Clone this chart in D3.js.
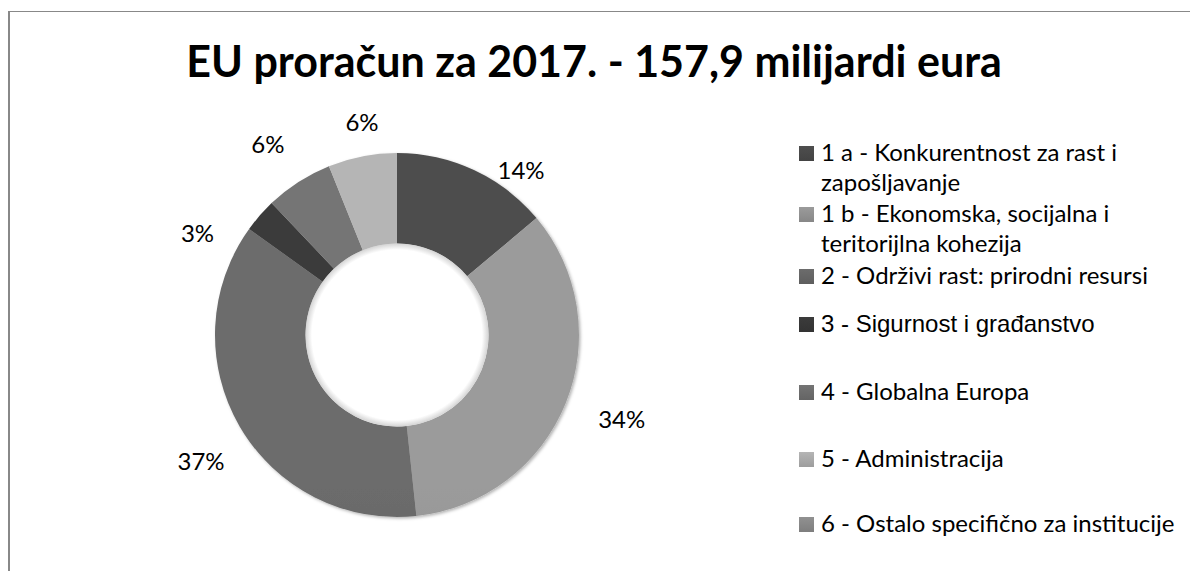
<!DOCTYPE html>
<html>
<head>
<meta charset="utf-8">
<script src="https://cdn.jsdelivr.net/npm/d3@7"></script>
<style>
  body { margin: 0; background: #fff; }
  text { font-family: Lato, "Open Sans", sans-serif; fill: #000; }
</style>
</head>
<body>
<div id="chart"></div>
<script>
// chart data
var chartTitle = "EU proračun za 2017. - 157,9 milijardi eura";
var categories = [
    "1 a - Konkurentnost za rast i zapošljavanje",
    "1 b - Ekonomska, socijalna i teritorijlna kohezija",
    "2 - Održivi rast: prirodni resursi",
    "3 - Sigurnost i građanstvo",
    "4 - Globalna Europa",
    "5 - Administracija",
    "6 - Ostalo specifično za institucije"
];
var shares = [13.9, 34.4, 36.6, 3.0, 6.0, 6.1, 0];   // % of the budget

// grey fills, one per slice
var greys = ["#474747", "#8e8e8e", "#636363", "#363636", "#6a6a6a", "#a6a6a6", "#858585"];

// label tweaks (like excel's "best fit"): [angle shift deg, extra radius px]
var labelNudge = [[12, -22], [-1.4, 12], [-2.7, 5.5], [-14, -4], [-1.4, 2], [1.6, -13], [0, 0]];

// legend rows: baseline of the first line
var legendY = [161, 222, 284, 332, 400, 467, 532];

var width = 1190, height = 571;
var cx = 397, cy = 335, R = 182, r = 91.5;

var svg = d3.select("#chart")
    .append("svg")
    .attr("width", width)
    .attr("height", height);

var defs = svg.append("defs");

// soft shadow like the excel ring
var shadow = defs.append("filter").attr("id", "shadow")
    .attr("x", "-10%").attr("y", "-10%").attr("width", "120%").attr("height", "120%");
shadow.append("feDropShadow")
    .attr("dx", 1.5).attr("dy", 1.5)
    .attr("stdDeviation", 1.5)
    .attr("flood-color", "#000")
    .attr("flood-opacity", 0.3);

// vertical gradient per slice (lighter on top)
greys.forEach(function(c, i) {
    var g = defs.append("linearGradient")
        .attr("id", "grad" + i)
        .attr("gradientUnits", "userSpaceOnUse")
        .attr("x1", 0).attr("x2", 0)
        .attr("y1", cy - R).attr("y2", cy + R);
    g.append("stop").attr("offset", 0).attr("stop-color", d3.rgb(c).brighter(0.25));
    g.append("stop").attr("offset", 1).attr("stop-color", d3.rgb(c).darker(0.25));

    var gl = defs.append("linearGradient")
        .attr("id", "lgrad" + i)
        .attr("x1", 0).attr("x2", 0).attr("y1", 0).attr("y2", 1);
    gl.append("stop").attr("offset", 0).attr("stop-color", d3.rgb(c).brighter(0.25));
    gl.append("stop").attr("offset", 1).attr("stop-color", d3.rgb(c).darker(0.15));
});

var hole = defs.append("radialGradient").attr("id", "hole");
hole.append("stop").attr("offset", 0.93).attr("stop-color", "#fff");
hole.append("stop").attr("offset", 1).attr("stop-color", "#d4d4d4");

// chart area border (only left + top are inside the picture)
svg.append("line")
    .attr("x1", 9).attr("x2", 9).attr("y1", 11).attr("y2", height)
    .style("stroke", "#888").style("stroke-width", 2);
svg.append("line")
    .attr("x1", 8).attr("x2", width).attr("y1", 11.5).attr("y2", 11.5)
    .style("stroke", "#888").style("stroke-width", 1);

// title
svg.append("text")
    .attr("x", 594)
    .attr("y", 77)
    .attr("text-anchor", "middle")
    .style("font-weight", "bold")
    .style("font-size", "43px")
    .text(chartTitle);

// donut
var pie = d3.pie().sort(null).value(function(d) { return d; });
var arcs = pie(shares);

var arc = d3.arc().innerRadius(r).outerRadius(R);

var ring = svg.append("g")
    .attr("transform", "translate(" + cx + "," + cy + ")");

ring.append("g")
    .attr("filter", "url(#shadow)")
    .selectAll("path")
    .data(arcs)
    .enter().append("path")
    .attr("d", arc)
    .style("fill", function(d, i) { return "url(#grad" + i + ")"; });

// the white hole has a faint inner shade
ring.append("circle")
    .attr("r", r)
    .style("fill", "url(#hole)");

// percent labels
var fmt = d3.format(".0f");
ring.selectAll(".pct")
    .data(arcs.filter(function(d) { return d.value > 0; }))
    .enter().append("text")
    .attr("class", "pct")
    .attr("text-anchor", "middle")
    .attr("dy", "0.35em")
    .style("font-size", "24px")
    .attr("transform", function(d) {
        var n = labelNudge[d.index];
        var a = (d.startAngle + d.endAngle) / 2 + n[0] * Math.PI / 180;
        var dist = R + 46 + n[1];
        return "translate(" + (dist * Math.sin(a)) + "," + (-dist * Math.cos(a)) + ")";
    })
    .text(function(d) { return fmt(d.value) + "%"; });

// legend
var legX = 799, textX = 821, lineH = 30, maxW = 1180 - textX;

var leg = svg.append("g").attr("class", "legend");
categories.forEach(function(name, i) {
    var y0 = legendY[i];
    var t = leg.append("text")
        .attr("x", textX)
        .attr("y", y0)
        .style("font-size", "24px");
    if (i === 3) {
        // this entry is set in a different font in the original
        t.style("font-family", "'Liberation Sans', Arial, sans-serif").style("font-size", "24px");
    }
    // wrap on width
    var words = name.split(" "), line = [], lines = 0;
    var ts = t.append("tspan").attr("x", textX).attr("y", y0);
    words.forEach(function(w) {
        line.push(w);
        ts.text(line.join(" "));
        if (ts.node().getComputedTextLength() > maxW && line.length > 1) {
            line.pop();
            ts.text(line.join(" "));
            line = [w];
            lines++;
            ts = t.append("tspan").attr("x", textX).attr("y", y0 + lines * lineH).text(w);
        }
    });

    leg.append("rect")
        .attr("x", legX)
        .attr("y", y0 - 15)
        .attr("width", 15)
        .attr("height", 15)
        .style("fill", "url(#lgrad" + i + ")");
});
</script>
</body>
</html>
